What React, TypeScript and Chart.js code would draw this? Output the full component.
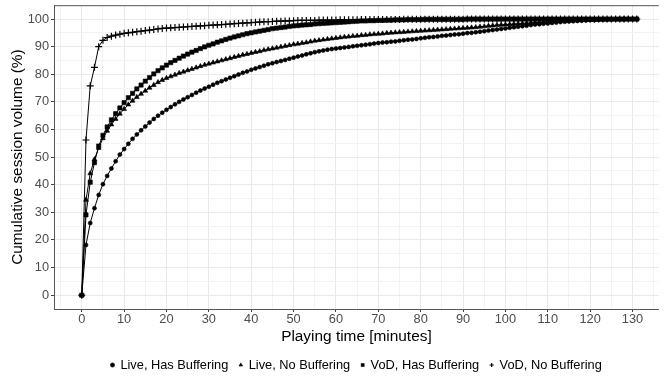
import React, { useEffect, useRef } from "react";
import { Chart, registerables } from "chart.js";

Chart.register(...registerables);

// Playing time in minutes (one sample per minute)
const minutes = [
  0, 1, 2, 3, 4, 5, 6, 7, 8, 9,
  10, 11, 12, 13, 14, 15, 16, 17, 18, 19,
  20, 21, 22, 23, 24, 25, 26, 27, 28, 29,
  30, 31, 32, 33, 34, 35, 36, 37, 38, 39,
  40, 41, 42, 43, 44, 45, 46, 47, 48, 49,
  50, 51, 52, 53, 54, 55, 56, 57, 58, 59,
  60, 61, 62, 63, 64, 65, 66, 67, 68, 69,
  70, 71, 72, 73, 74, 75, 76, 77, 78, 79,
  80, 81, 82, 83, 84, 85, 86, 87, 88, 89,
  90, 91, 92, 93, 94, 95, 96, 97, 98, 99,
  100, 101, 102, 103, 104, 105, 106, 107, 108, 109,
  110, 111, 112, 113, 114, 115, 116, 117, 118, 119,
  120, 121, 122, 123, 124, 125, 126, 127, 128, 129,
  130, 131,
];

const liveHasBuffering = [
  0, 18.2, 26.1, 31.5, 36.3, 40.2, 43.2, 45.9, 48.5, 50.9,
  52.9, 54.8, 56.6, 58.2, 59.7, 61.1, 62.5, 63.8, 65.0, 66.1,
  67.1, 68.1, 69.1, 70.0, 70.9, 71.7, 72.5, 73.3, 74.1, 74.8,
  75.5, 76.2, 76.9, 77.5, 78.1, 78.7, 79.3, 79.9, 80.5, 81.0,
  81.6, 82.1, 82.6, 83.1, 83.6, 84.0, 84.4, 84.8, 85.2, 85.6,
  86.0, 86.4, 86.8, 87.2, 87.6, 88.0, 88.3, 88.6, 88.9, 89.1,
  89.3, 89.5, 89.7, 89.9, 90.1, 90.3, 90.5, 90.7, 90.9, 91.1,
  91.3, 91.5, 91.6, 91.8, 91.9, 92.1, 92.3, 92.5, 92.6, 92.8,
  93.0, 93.2, 93.4, 93.5, 93.7, 93.9, 94.0, 94.2, 94.4, 94.5,
  94.7, 94.9, 95.0, 95.2, 95.4, 95.6, 95.8, 96.0, 96.2, 96.4,
  96.6, 96.8, 97.0, 97.2, 97.4, 97.6, 97.8, 98.0, 98.1, 98.3,
  98.4, 98.6, 98.7, 98.9, 99.0, 99.1, 99.2, 99.3, 99.4, 99.5,
  99.6, 99.6, 99.7, 99.7, 99.8, 99.8, 99.9, 99.9, 99.9, 100,
  100, 100,
];

const liveNoBuffering = [
  0, 34.5, 44.1, 49.2, 53.3, 56.8, 59.5, 61.8, 63.8, 65.7,
  67.4, 69.0, 70.4, 71.7, 72.9, 74.0, 75.1, 76.1, 77.1, 77.9,
  78.6, 79.2, 79.8, 80.4, 80.9, 81.4, 81.9, 82.4, 82.9, 83.4,
  83.8, 84.2, 84.6, 85.0, 85.4, 85.8, 86.2, 86.6, 87.0, 87.3,
  87.7, 88.0, 88.3, 88.7, 89.0, 89.3, 89.6, 89.9, 90.2, 90.5,
  90.8, 91.0, 91.3, 91.5, 91.8, 92.1, 92.3, 92.5, 92.7, 92.9,
  93.1, 93.3, 93.5, 93.6, 93.8, 93.9, 94.1, 94.2, 94.4, 94.5,
  94.6, 94.7, 94.9, 95.0, 95.1, 95.2, 95.3, 95.4, 95.5, 95.6,
  95.7, 95.8, 95.9, 96.0, 96.1, 96.2, 96.3, 96.4, 96.5, 96.6,
  96.7, 96.8, 96.9, 97.0, 97.2, 97.3, 97.5, 97.6, 97.8, 97.9,
  98.0, 98.1, 98.2, 98.3, 98.4, 98.5, 98.6, 98.7, 98.8, 98.9,
  99.0, 99.1, 99.2, 99.3, 99.3, 99.4, 99.5, 99.5, 99.6, 99.6,
  99.7, 99.7, 99.8, 99.8, 99.8, 99.9, 99.9, 99.9, 100, 100,
  100, 100,
];

const vodHasBuffering = [
  0, 29.1, 40.9, 48.0, 54.0, 57.9, 60.9, 63.5, 65.7, 67.8,
  69.7, 71.5, 73.1, 74.7, 76.1, 77.5, 78.8, 80.1, 81.3, 82.3,
  83.3, 84.2, 85.0, 85.8, 86.6, 87.3, 88.0, 88.6, 89.3, 89.9,
  90.5, 91.0, 91.6, 92.1, 92.6, 93.1, 93.5, 93.9, 94.3, 94.7,
  95.0, 95.3, 95.6, 95.9, 96.2, 96.5, 96.7, 96.9, 97.1, 97.3,
  97.5, 97.6, 97.8, 97.9, 98.0, 98.2, 98.3, 98.4, 98.5, 98.6,
  98.7, 98.8, 98.9, 99.0, 99.1, 99.2, 99.3, 99.3, 99.4, 99.4,
  99.5, 99.5, 99.6, 99.6, 99.7, 99.7, 99.7, 99.8, 99.8, 99.8,
  99.8, 99.9, 99.9, 99.9, 99.9, 99.9, 99.9, 99.9, 99.9, 99.9,
  99.9, 100, 100, 100, 100, 100, 100, 100, 100, 100,
  100, 100, 100, 100, 100, 100, 100, 100, 100, 100,
  100, 100, 100, 100, 100, 100, 100, 100, 100, 100,
  100, 100, 100, 100, 100, 100, 100, 100, 100, 100,
  100, 100,
];

const vodNoBuffering = [
  0, 56.2, 75.8, 82.5, 90.0, 92.3, 93.3, 93.8, 94.2, 94.5,
  94.8, 95.0, 95.2, 95.4, 95.6, 95.8, 96.0, 96.2, 96.4, 96.6,
  96.7, 96.8, 96.9, 97.0, 97.1, 97.2, 97.3, 97.4, 97.5, 97.6,
  97.7, 97.8, 97.9, 98.0, 98.1, 98.2, 98.3, 98.4, 98.5, 98.6,
  98.7, 98.8, 98.9, 99.0, 99.0, 99.1, 99.2, 99.2, 99.3, 99.3,
  99.4, 99.5, 99.5, 99.5, 99.5, 99.5, 99.6, 99.6, 99.6, 99.6,
  99.6, 99.7, 99.7, 99.7, 99.7, 99.7, 99.8, 99.8, 99.8, 99.8,
  99.8, 99.8, 99.8, 99.8, 99.8, 99.8, 99.9, 99.9, 99.9, 99.9,
  99.9, 99.9, 99.9, 99.9, 99.9, 99.9, 99.9, 99.9, 99.9, 99.9,
  99.9, 100, 100, 100, 100, 100, 100, 100, 100, 100,
  100, 100, 100, 100, 100, 100, 100, 100, 100, 100,
  100, 100, 100, 100, 100, 100, 100, 100, 100, 100,
  100, 100, 100, 100, 100, 100, 100, 100, 100, 100,
  100, 100,
];

const seriesLabels = [
  "Live, Has Buffering",
  "Live, No Buffering",
  "VoD, Has Buffering",
  "VoD, No Buffering",
];

const xTickValues = [
  -5, 0, 5, 10, 15, 20, 25, 30, 35, 40, 45, 50, 55, 60, 65, 70, 75, 80, 85,
  90, 95, 100, 105, 110, 115, 120, 125, 130, 135,
];
const yTickValues = [
  -5, 0, 5, 10, 15, 20, 25, 30, 35, 40, 45, 50, 55, 60, 65, 70, 75, 80, 85,
  90, 95, 100,
];

const FONT = "'Liberation Sans', Arial, Helvetica, sans-serif";

const toPoints = (ys: number[]) => ys.map((y, i) => ({ x: minutes[i], y }));

const panelTopBorder = {
  id: "panelTopBorder",
  afterDatasetsDraw(chart: any) {
    const { ctx, chartArea } = chart;
    ctx.save();
    ctx.strokeStyle = "#555555";
    ctx.lineWidth = 1;
    ctx.beginPath();
    ctx.moveTo(chartArea.left, chartArea.top + 0.5);
    ctx.lineTo(chartArea.right, chartArea.top + 0.5);
    ctx.stroke();
    ctx.restore();
  },
};

export default function App() {
  const canvasRef = useRef<HTMLCanvasElement | null>(null);

  useEffect(() => {
    document.body.style.margin = "0";
    const canvas = canvasRef.current;
    if (!canvas) return;

    const gridColor = (c: any) =>
      c.tick && c.tick.value % 10 === 0 ? "#e9e9e9" : "#f3f3f3";
    const tickColor = (c: any) =>
      c.tick && c.tick.value % 10 === 0 ? "#444444" : "rgba(0,0,0,0)";

    const mk = (label: string, data: number[], style: string, radius: number) => ({
      label,
      data: toPoints(data),
      borderColor: "#000000",
      backgroundColor: "#000000",
      borderWidth: 1,
      pointStyle: style,
      pointRadius: radius,
      pointBorderWidth: style === "cross" ? 1.2 : 0.6,
      pointBackgroundColor: "#000000",
      pointBorderColor: "#000000",
      tension: 0,
    });

    const chart = new Chart(canvas, {
      type: "line",
      data: {
        datasets: [
          mk(seriesLabels[0], liveHasBuffering, "circle", 2),
          mk(seriesLabels[1], liveNoBuffering, "triangle", 2.8),
          mk(seriesLabels[2], vodHasBuffering, "rect", 3),
          mk(seriesLabels[3], vodNoBuffering, "cross", 3.5),
        ],
      },
      options: {
        animation: false,
        responsive: false,
        devicePixelRatio: 1,
        layout: { padding: { top: 3, right: 0, left: 0, bottom: -1.4 } },
        plugins: {
          tooltip: { enabled: false },
          legend: {
            position: "bottom",
            fullSize: false,
            labels: {
              usePointStyle: true,
              boxWidth: 3,
              boxHeight: 3,
              padding: 11,
              color: "#000000",
              font: { family: FONT, size: 12.8 },
            },
          },
        },
        scales: {
          x: {
            type: "linear",
            min: -6.55,
            max: 136.2,
            afterBuildTicks: (scale: any) => {
              scale.ticks = xTickValues.map((v) => ({ value: v }));
            },
            afterFit: (scale: any) => {
              scale.height = 38.6;
              scale.paddingLeft = 0;
              scale.paddingRight = 0;
            },
            border: { display: true, color: "#555555", width: 1 },
            grid: {
              color: gridColor,
              lineWidth: 1,
              drawTicks: true,
              tickLength: 3,
              tickColor: tickColor,
            },
            ticks: {
              autoSkip: false,
              maxRotation: 0,
              padding: 0,
              color: "#4d4d4d",
              font: { family: FONT, size: 12.8 },
              callback: (v: any) => (Number(v) % 10 === 0 ? String(v) : ""),
            },
            title: {
              display: true,
              text: "Playing time [minutes]",
              color: "#000000",
              font: { family: FONT, size: 15.4 },
              padding: { top: 0, bottom: 2 },
            },
          },
          y: {
            type: "linear",
            min: -5,
            max: 105,
            afterBuildTicks: (scale: any) => {
              scale.ticks = yTickValues.map((v) => ({ value: v }));
            },
            afterFit: (scale: any) => {
              scale.width = 54;
              scale.paddingTop = 0;
              scale.paddingBottom = 0;
            },
            border: { display: true, color: "#555555", width: 1 },
            grid: {
              color: gridColor,
              lineWidth: 1,
              drawTicks: true,
              tickLength: 3,
              tickColor: tickColor,
            },
            ticks: {
              autoSkip: false,
              padding: 2,
              color: "#4d4d4d",
              font: { family: FONT, size: 12.8 },
              callback: (v: any) => (Number(v) % 10 === 0 ? String(v) : ""),
            },
            title: {
              display: true,
              text: "Cumulative session volume (%)",
              color: "#000000",
              font: { family: FONT, size: 15.4 },
              padding: { top: 9, bottom: 0 },
            },
          },
        },
      },
      plugins: [panelTopBorder],
    } as any);

    return () => chart.destroy();
  }, []);

  return (
    <div style={{ width: 664, height: 380, background: "#ffffff" }}>
      <canvas ref={canvasRef} width={664} height={380} style={{ display: "block" }} />
    </div>
  );
}
